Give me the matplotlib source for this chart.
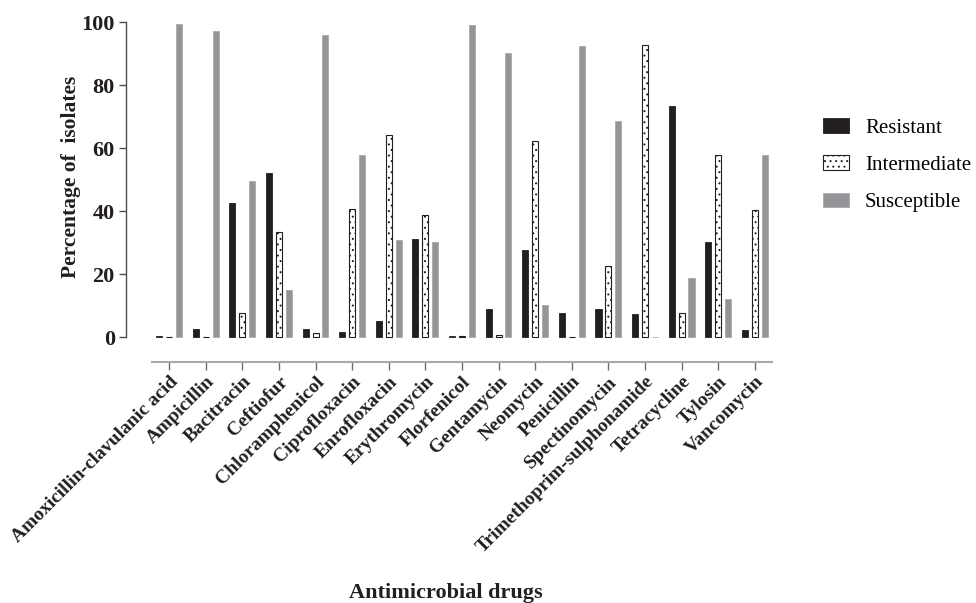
import numpy as np
import matplotlib
matplotlib.use('Agg')
import matplotlib.pyplot as plt

plt.rcParams['font.family'] = ['Liberation Serif', 'DejaVu Serif']
plt.rcParams['hatch.linewidth'] = 0.7
plt.rcParams['hatch.color'] = '#231f20'

# 数据
drugs = ['Amoxicillin-clavulanic acid', 'Ampicillin', 'Bacitracin', 'Ceftiofur',
         'Chloramphenicol', 'Ciprofloxacin', 'Enrofloxacin', 'Erythromycin',
         'Florfenicol', 'Gentamycin', 'Neomycin', 'Penicillin', 'Spectinomycin',
         'Trimethoprim-sulphonamide', 'Tetracycline', 'Tylosin', 'Vancomycin']
resistant = [0.5, 2.5, 42.5, 52.0, 2.5, 1.5, 5.1, 31.2, 0.5, 9.0, 27.7, 7.7, 9.0, 7.4, 73.3, 30.3, 2.1]
intermediate = [0, 0, 7.8, 33.3, 1.2, 40.7, 64.1, 38.8, 0.5, 0.8, 62.2, 0, 22.7, 92.7, 7.8, 57.8, 40.4]
susceptible = [99.5, 97.2, 49.4, 14.8, 96.0, 57.8, 30.9, 30.3, 99.2, 90.3, 10.3, 92.3, 68.6, 0, 18.9, 12.2, 57.8]

x = np.arange(len(drugs))
w = 0.165
off = 0.27

fig = plt.figure(figsize=(9.76, 6.03), dpi=100)
ax = fig.add_axes([0.129, 0.3997, 0.791 - 0.129, 0.965 - 0.3997])

b1 = ax.bar(x - off, resistant, w, color='#231f20', edgecolor='#231f20', linewidth=0.6, label='Resistant')
b2 = ax.bar(x, intermediate, w, color='white', edgecolor='#231f20', linewidth=0.8,
            hatch='...', label='Intermediate')
b3 = ax.bar(x + off, susceptible, w, color='#939598', edgecolor='#a7a9ac', linewidth=0.6, label='Susceptible')

ax.set_xlim(-1.18, 16.47)
ax.set_ylim(-7.9, 100.3)

# 坐标轴样式 (分离的坐标轴)
for s in ['top', 'right']:
    ax.spines[s].set_visible(False)
ax.spines['left'].set_bounds(0, 100)
ax.spines['left'].set_color('#4d4d4f')
ax.spines['left'].set_linewidth(1.0)
ax.spines['bottom'].set_bounds(-0.46, 16.47)
ax.spines['bottom'].set_color('#a7a9ac')
ax.spines['bottom'].set_linewidth(1.5)

ax.set_yticks([0, 20, 40, 60, 80, 100])
ax.tick_params(axis='y', length=5, width=1, color='#4d4d4f', labelsize=16, pad=3)
ax.tick_params(axis='x', length=6, width=1, color='#6d6e71', pad=2)
for t in ax.get_yticklabels():
    t.set_fontweight('bold')
    t.set_color('#231f20')

ax.set_xticks(x)
ax.set_xticklabels(drugs, rotation=45, ha='right', va='top', rotation_mode='anchor',
                   fontsize=14, fontweight='bold', color='#231f20')

ax.set_ylabel('Percentage of  isolates', fontsize=15.5, fontweight='bold', color='#231f20')
ax.yaxis.set_label_coords(-0.07, 0.543)
fig.text(0.457, 0.0, 'Antimicrobial drugs', fontsize=16, fontweight='bold',
         color='#231f20', ha='center', va='bottom')

fig.legend(handles=[b1, b2, b3], loc='upper left', bbox_to_anchor=(0.835, 0.818),
           frameon=False, fontsize=15, handlelength=1.25, handleheight=0.7,
           handletextpad=0.75, labelspacing=0.85, borderaxespad=0)

plt.savefig('out.png', dpi=100)
plt.close()
